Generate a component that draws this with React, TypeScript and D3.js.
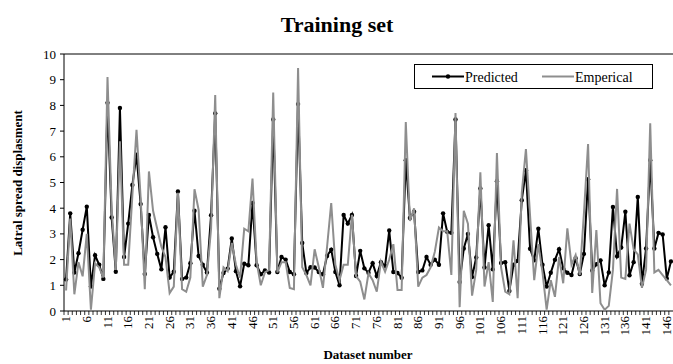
import * as d3 from 'd3';

// category ids 1..147
const datasetIds = d3.range(1, 148);

const predicted = [
  1.23, 3.8, 1.5, 2.25, 3.16, 4.06, 0.95, 2.17, 1.8, 1.25,
  8.1, 3.64, 1.53, 7.9, 2.1, 3.4, 4.9, 6.08, 4.16, 1.44,
  3.74, 2.87, 2.22, 1.62, 3.26, 1.3, 1.53, 4.65, 1.25, 1.3,
  1.86, 3.9, 2.14, 1.8, 1.5, 3.73, 7.69, 0.87, 1.48, 1.65,
  2.82, 1.55, 0.96, 1.84, 1.78, 4.2, 1.78, 1.43, 1.58, 1.5,
  7.45, 1.52, 2.1, 2.0, 1.52, 1.43, 8.05, 2.65, 1.48, 1.7,
  1.69, 1.52, 1.43, 2.14, 2.39, 1.52, 1.0, 3.74, 3.4, 3.74,
  1.36, 2.34, 1.66, 1.49, 1.86, 1.36, 1.9, 1.75, 3.13, 1.52,
  1.48, 1.29, 5.87, 3.62, 3.86, 1.52, 1.58, 2.1, 1.8, 2.0,
  1.8, 3.8, 3.08, 3.04, 7.45, 1.13, 2.43, 3.0, 1.32, 2.08,
  4.77, 1.69, 3.34, 1.62, 5.05, 1.87, 1.9, 0.78, 1.8, 1.95,
  4.31, 5.48, 2.42, 1.97, 3.2, 1.8, 0.95, 1.49, 1.99, 2.4,
  1.66, 1.49, 1.4, 2.05, 1.44, 2.22, 5.13, 1.58, 1.82, 1.97,
  1.0, 1.5, 4.05, 2.13, 2.47, 3.86, 1.39, 1.9, 4.44, 1.06,
  2.43, 5.87, 2.43, 3.04, 2.98, 1.26, 1.93,
];

const emperical = [
  0.8, 3.6, 0.65, 1.9, 1.35, 3.0, 0.05, 1.85, 1.7, 1.3,
  9.1, 4.0, 1.6, 6.6, 1.8, 1.8, 4.5, 7.05, 4.4, 0.85,
  5.43, 3.9, 3.2, 2.5, 2.1, 0.7, 0.95, 4.6, 0.85, 0.75,
  1.3, 4.74, 3.93, 0.95, 1.4, 3.2, 8.4, 0.5, 1.7, 1.55,
  2.65, 1.8, 1.3, 3.2, 3.1, 5.15, 1.9, 1.0, 1.5, 1.6,
  8.5, 1.5, 1.9, 1.9, 0.9, 0.85, 9.45, 1.7, 1.4, 1.0,
  2.4, 1.7, 0.9, 2.5, 4.2, 1.8, 1.2, 1.8, 1.8, 3.74,
  1.36, 1.14, 0.45, 1.47, 1.2, 0.75, 1.92, 1.53, 2.0, 2.6,
  0.82, 0.82, 7.35, 3.5, 4.0, 0.95, 1.3, 1.4, 1.7, 2.3,
  3.25, 3.1, 3.1, 1.4, 7.7, 0.15, 3.9, 3.4, 0.6, 1.6,
  5.4, 0.95, 1.9, 0.35, 6.15, 1.7, 0.75, 0.65, 2.75, 0.5,
  4.6, 6.3, 3.7, 1.2, 2.6, 1.5, 0.05, 1.2, 0.55, 2.1,
  1.08, 3.22, 1.8, 2.18, 1.4, 3.8, 6.5, 0.7, 3.15, 0.3,
  0.05, 0.2, 1.6, 4.75, 1.3, 1.25, 3.4, 2.4, 2.2, 0.9,
  1.6, 7.3, 1.5, 1.6, 1.4, 1.2, 1.0,
];

const yTicks = [0, 1, 2, 3, 4, 5, 6, 7, 8, 9, 10];
const xLabelIds = datasetIds.filter(d => (d - 1) % 5 === 0);

const W = 673;
const H = 364;
const margin = { top: 54, right: 0, bottom: 53, left: 64 };
const FONT = '"Liberation Serif", "Times New Roman", serif';
const GRAY = '#8e8e8e';

export default function App() {
  const x = d3.scaleBand<number>()
    .domain(datasetIds)
    .range([margin.left, W - margin.right])
    .padding(0);
  const cx = (d: number) => (x(d) as number) + x.bandwidth() / 2;

  const y = d3.scaleLinear()
    .domain([0, 10])
    .range([H - margin.bottom, margin.top]);

  const line = d3.line<number>()
    .x((_, i) => cx(datasetIds[i]))
    .y(d => y(d));

  const y0 = y(0);

  return (
    <div style={{ position: 'absolute', left: 0, top: 0 }}>
      <svg width={W} height={H} style={{ display: 'block', background: '#fff' }} fontFamily={FONT}>
        {/* title */}
        <text x={337} y={32} textAnchor="middle" fontSize={22} fontWeight="bold">Training set</text>

        {/* top border */}
        <line x1={margin.left} x2={W} y1={y(10)} y2={y(10)} stroke="#000" strokeWidth={1} />

        {/* y axis */}
        <line x1={margin.left} x2={margin.left} y1={y(0)} y2={y(10)} stroke="#000" />
        {yTicks.map(t => (
          <g key={t}>
            <line x1={margin.left - 4} x2={margin.left} y1={y(t)} y2={y(t)} stroke="#000" />
            <text x={margin.left - 8} y={y(t)} dy="0.35em" textAnchor="end" fontSize={13}>{t}</text>
          </g>
        ))}

        {/* x axis */}
        <line x1={margin.left} x2={W} y1={y0} y2={y0} stroke="#000" />
        {datasetIds.map(d => (
          <line key={d} x1={x(d) as number} x2={x(d) as number} y1={y0} y2={y0 + 4} stroke="#000" strokeWidth={0.8} />
        ))}
        {xLabelIds.map(d => (
          <text key={d} transform={`translate(${cx(d) + 4},${y0 + 5}) rotate(-90)`} textAnchor="end" fontSize={13}>{d}</text>
        ))}

        {/* series */}
        <path d={line(predicted) || ''} fill="none" stroke="#000" strokeWidth={2} />
        {predicted.map((v, i) => (
          <circle key={i} cx={cx(datasetIds[i])} cy={y(v)} r={2.2} fill="#000" />
        ))}
        <path d={line(emperical) || ''} fill="none" stroke={GRAY} strokeWidth={2} />

        {/* legend */}
        <rect x={414.5} y={64.5} width={238} height={24} fill="#fff" stroke="#000" />
        <line x1={432} x2={464} y1={76.5} y2={76.5} stroke="#000" strokeWidth={2} />
        <circle cx={448} cy={76.5} r={2.2} fill="#000" />
        <text x={465} y={81.5} fontSize={14}>Predicted</text>
        <line x1={542} x2={574} y1={76.5} y2={76.5} stroke={GRAY} strokeWidth={2} />
        <text x={575} y={81.5} fontSize={14}>Emperical</text>

        {/* axis titles */}
        <text transform={`translate(22,${183}) rotate(-90)`} textAnchor="middle" fontSize={13} fontWeight="bold">Latral spread displasment</text>
        <text x={368} y={359} textAnchor="middle" fontSize={13} fontWeight="bold">Dataset number</text>
      </svg>
    </div>
  );
}
